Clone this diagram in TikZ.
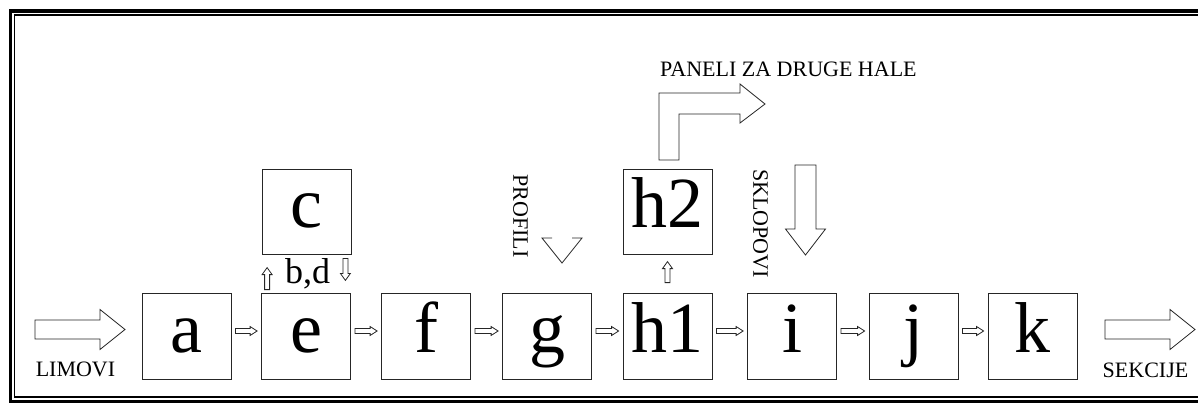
\documentclass[tikz,border=0pt]{standalone}
\usepackage{fontspec}
\setmainfont{Liberation Serif}
\usetikzlibrary{calc}
\tikzset{
 box/.style={draw=black!85, line width=0.8pt, minimum width=89pt, minimum height=86pt, inner sep=0pt,
   font=\fontsize{72}{72}\selectfont, text height=52pt, text depth=20pt},
 blk/.style={draw=black!85, line width=0.8pt, fill=white, line join=miter},
 lbl/.style={font=\fontsize{22}{22}\selectfont, inner sep=0pt},
}
\newcommand{\barrow}[5]{%
 \draw[blk] let \p1=#1, \p2=#2, \n1={atan2(\y2-\y1,\x2-\x1)}, \n2={veclen(\x2-\x1,\y2-\y1)} in
  [shift={(\p1)}, rotate=\n1] (0,#3) -- ({\n2-#5},#3) -- ({\n2-#5},#4) -- (\n2,0) -- ({\n2-#5},-#4) -- ({\n2-#5},-#3) -- (0,-#3) -- cycle;}
\begin{document}
\begin{tikzpicture}[x=1pt,y=-1pt]
\useasboundingbox (0,0) rectangle (1198,410);
% frame
\draw[line width=3.5pt] (10.5,11) rectangle (1210,401.5);
\draw[line width=1.2pt] (14.5,15) rectangle (1205,397);
% boxes
\node[box] (a) at (186.5,336) {a};
\node[box] (e) at (306,336) {e};
\node[box] (f) at (426,336) {f};
\node[box] (g) at (547,336) {g};
\node[box] (h1) at (667.5,336) {h1};
\node[box] (i) at (792,336) {i};
\node[box] (j) at (913.5,336) {j};
\node[box] (k) at (1032.5,336) {k};
\node[box, minimum height=85pt] (c) at (306.5,211.5) {c};
\node[box, minimum height=85pt] (h2) at (667.5,211.5) {h2};
% small arrows
\foreach \u/\v in {a/e,e/f,f/g,g/h1,h1/i,i/j,j/k}
  {\barrow{($(\u.east)+(4,-5)$)}{($(\v.west)+(-4,-5)$)}{2.5}{4.5}{7}}
\barrow{($(e.north west)+(6,-3)$)}{($(e.north west)+(6,-25)$)}{2.5}{5}{7}
\barrow{($(c.south east)+(-6,4)$)}{($(c.south east)+(-6,26)$)}{2.5}{5}{7}
\barrow{($(h1.north)+(0,-10)$)}{($(h1.north)+(0,-31)$)}{2.5}{5}{7}
\node[font=\fontsize{36}{36}\selectfont, anchor=base, inner sep=0pt] (bd) at (307.5,283) {b,d};
% big arrows
\coordinate (limS) at (35,329.5);
\coordinate (limE) at (125,329.5);
\coordinate (sekS) at (1105,329.5);
\coordinate (sekE) at (1195,329.5);
\coordinate (sklS) at (805.5,165);
\coordinate (sklE) at (805.5,255);
\barrow{(limS)}{(limE)}{9.5}{20}{25}
\barrow{(sekS)}{(sekE)}{9.5}{20}{25}
\barrow{(sklS)}{(sklE)}{10.5}{20}{26}
% profili head
\draw[blk, fill=none] (552,238) -- (542,238) -- (562,263) -- (582,238) -- (572,238);
% paneli L arrow
\draw[blk] (659,160) -- (659,93) -- (740,93) -- (740,84) -- (765,104) -- (740,123) -- (740,114) -- (679,114) -- (679,160) -- cycle;
% labels
\node[lbl, anchor=base] (limovi) at (75.5,376) {LIMOVI};
\node[lbl, anchor=base] (sekcije) at (1145.5,377) {SEKCIJE};
\node[lbl, anchor=base west] (paneli) at (660,76) {PANELI ZA DRUGE HALE};
\node[lbl, rotate=-90] (profili) at (520.5,216) {PROFILI};
\node[lbl, rotate=-90] (sklopovi) at (760.5,223.5) {SKLOPOVI};
\end{tikzpicture}
\end{document}
